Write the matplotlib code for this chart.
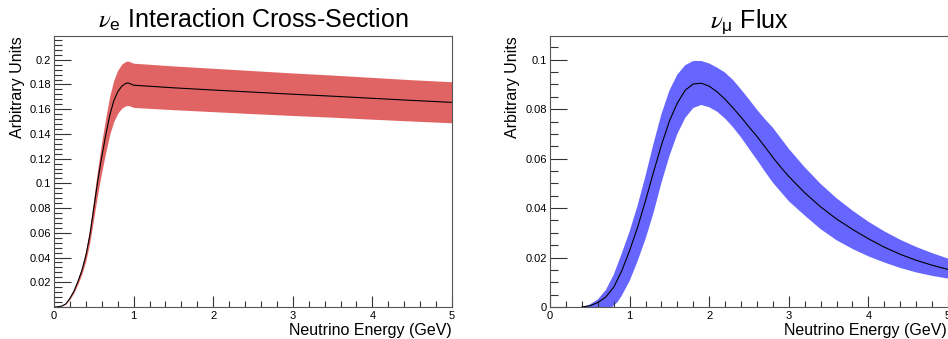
import matplotlib
matplotlib.use("Agg")
import matplotlib.pyplot as plt
from matplotlib.ticker import MultipleLocator, FuncFormatter

plt.rcParams['font.family'] = ['Liberation Sans', 'DejaVu Sans']
plt.rcParams['mathtext.fontset'] = 'stix'

# nu_e cross-section: central value and band edges (GeV, arbitrary units)
xsec_e = [0.00, 0.05, 0.10, 0.15, 0.20, 0.25, 0.30, 0.35, 0.40, 0.45, 0.50, 0.55, 0.60, 0.65,
          0.70, 0.75, 0.80, 0.85, 0.90, 0.93, 0.96, 1.00, 1.5, 2.0, 2.5, 3.0, 3.5, 4.0, 4.5, 5.0]
xsec_mid = [0.0, 0.0002, 0.0008, 0.0026, 0.0070, 0.0128, 0.0205, 0.0295, 0.0415, 0.0580, 0.0800,
            0.1020, 0.1215, 0.1390, 0.1550, 0.1665, 0.1740, 0.1785, 0.1808, 0.1812, 0.1805, 0.1794,
            0.1773, 0.1755, 0.1738, 0.1721, 0.1705, 0.1688, 0.1671, 0.1655]
xsec_hi = [0.0, 0.0002, 0.0009, 0.0029, 0.0077, 0.0141, 0.0226, 0.0325, 0.0457, 0.0638, 0.0880,
           0.1122, 0.1337, 0.1529, 0.1705, 0.1832, 0.1914, 0.1964, 0.1986, 0.1990, 0.1982, 0.1972,
           0.1950, 0.1931, 0.1912, 0.1893, 0.1876, 0.1857, 0.1838, 0.1822]
xsec_lo = [0.0, 0.0002, 0.0007, 0.0023, 0.0063, 0.0115, 0.0185, 0.0266, 0.0374, 0.0522, 0.0720,
           0.0918, 0.1094, 0.1251, 0.1395, 0.1499, 0.1566, 0.1607, 0.1627, 0.1630, 0.1625, 0.1614,
           0.1596, 0.1580, 0.1564, 0.1549, 0.1535, 0.1519, 0.1504, 0.1490]

# nu_mu flux: central value
flux_e = [0.40, 0.50, 0.60, 0.70, 0.80, 0.90, 1.00, 1.10, 1.20, 1.30, 1.40, 1.50, 1.60, 1.70,
          1.80, 1.90, 2.00, 2.10, 2.20, 2.30, 2.40, 2.50, 2.60, 2.70, 2.80, 2.90, 3.00, 3.20,
          3.40, 3.60, 3.80, 4.00, 4.20, 4.40, 4.60, 4.80, 5.00]
flux_mid = [0.0, 0.0005, 0.0018, 0.0040, 0.0080, 0.0145, 0.0228, 0.0322, 0.0430, 0.0545, 0.0655,
            0.0752, 0.0825, 0.0877, 0.0902, 0.0905, 0.0893, 0.0870, 0.0840, 0.0805, 0.0768, 0.0728,
            0.0690, 0.0648, 0.0605, 0.0565, 0.0528, 0.0462, 0.0405, 0.0356, 0.0314, 0.0276, 0.0242,
            0.0213, 0.0189, 0.0169, 0.0152]
# upper edge of the flux band
flux_hi_e = [0.42, 0.50, 0.60, 0.70, 0.80, 0.90, 1.00, 1.10, 1.20, 1.30, 1.40, 1.50, 1.60, 1.70,
             1.80, 1.90, 2.00, 2.10, 2.20, 2.30, 2.40, 2.50, 2.60, 2.70, 2.80, 3.00, 3.20, 3.40,
             3.60, 3.80, 4.00, 4.20, 4.40, 4.60, 4.80, 5.00]
flux_hi = [0.0, 0.0010, 0.0030, 0.0068, 0.0130, 0.0215, 0.0305, 0.0410, 0.0530, 0.0660, 0.0780,
           0.0875, 0.0940, 0.0978, 0.0995, 0.0995, 0.0985, 0.0968, 0.0948, 0.0918, 0.0880, 0.0840,
           0.0798, 0.0760, 0.0725, 0.0640, 0.0565, 0.0498, 0.0440, 0.0390, 0.0345, 0.0306, 0.0272,
           0.0243, 0.0218, 0.0196]
# lower edge of the flux band
flux_lo_e = [0.78, 0.85, 0.90, 0.95, 1.00, 1.10, 1.20, 1.30, 1.40, 1.50, 1.60, 1.70, 1.80, 1.90,
             2.00, 2.10, 2.20, 2.30, 2.40, 2.50, 2.60, 2.70, 2.80, 3.00, 3.20, 3.40, 3.60, 3.80,
             4.00, 4.20, 4.40, 4.60, 4.80, 5.00]
flux_lo = [0.0, 0.0020, 0.0045, 0.0075, 0.0105, 0.0185, 0.0275, 0.0380, 0.0502, 0.0610, 0.0700,
           0.0765, 0.0805, 0.0817, 0.0808, 0.0790, 0.0762, 0.0727, 0.0686, 0.0640, 0.0595, 0.0548,
           0.0503, 0.0428, 0.0370, 0.0315, 0.0270, 0.0235, 0.0205, 0.0180, 0.0158, 0.0140, 0.0126,
           0.0115]

W, H = 948, 339
fig = plt.figure(figsize=(W / 100, H / 100), dpi=100)

def style_axes(ax, ymax, yminor, show_zero):
    ax.set_xlim(0, 5)
    ax.set_ylim(0, ymax)
    ax.xaxis.set_major_locator(MultipleLocator(1))
    ax.xaxis.set_minor_locator(MultipleLocator(0.2))
    ax.yaxis.set_major_locator(MultipleLocator(0.02))
    ax.yaxis.set_minor_locator(MultipleLocator(yminor))
    ax.xaxis.set_major_formatter(FuncFormatter(lambda v, p: '%g' % v))
    ax.yaxis.set_major_formatter(FuncFormatter(
        lambda v, p: ('%g' % round(v, 4)) if (v > 1e-9 or show_zero) else ''))
    ax.tick_params(which='both', direction='in', top=False, right=False,
                   labelsize=8, color='#333333', width=0.8)
    ax.tick_params(axis='x', which='major', length=8, pad=3)
    ax.tick_params(axis='x', which='minor', length=4)
    ax.tick_params(axis='y', which='major', length=12, pad=2)
    ax.tick_params(axis='y', which='minor', length=6)
    for s in ax.spines.values():
        s.set_color('#555555')
        s.set_linewidth(0.8)

# left panel
ax1 = fig.add_axes([54 / W, 32 / H, 398 / W, 271 / H])
ax1.fill_between(xsec_e, xsec_lo, xsec_hi, color='#e06464', linewidth=0)
ax1.plot(xsec_e, xsec_mid, color='black', linewidth=0.8)
style_axes(ax1, 0.2192, 0.004, False)

# right panel
ax2 = fig.add_axes([550 / W, 32 / H, 398 / W, 271 / H])
ax2.fill(flux_hi_e + flux_lo_e[::-1], flux_hi + flux_lo[::-1], color='#6666ff', linewidth=0)
ax2.plot(flux_e, flux_mid, color='black', linewidth=0.8)
style_axes(ax2, 0.1096, 0.005, True)
ax2.spines['right'].set_visible(False)

# titles
fig.text(253 / W, 1 - 28 / H, r'$\nu_\mathregular{e}$ Interaction Cross-Section',
         ha='center', va='baseline', fontsize=18)
fig.text(749 / W, 1 - 28 / H, r'$\nu_\mathregular{\mu}$ Flux', ha='center', va='baseline', fontsize=18)

# axis labels
for x_right, x_lab in [(452, 'Neutrino Energy (GeV)'), (947, 'Neutrino Energy (GeV)')]:
    fig.text(x_right / W, 1 - 330 / H, x_lab, ha='right', va='center', fontsize=11.5)
for x_c in [18, 513]:
    fig.text(x_c / W, 1 - 36 / H, 'Arbitrary Units', rotation=90,
             ha='center', va='top', fontsize=11.5)

fig.savefig('out.png', dpi=100)
